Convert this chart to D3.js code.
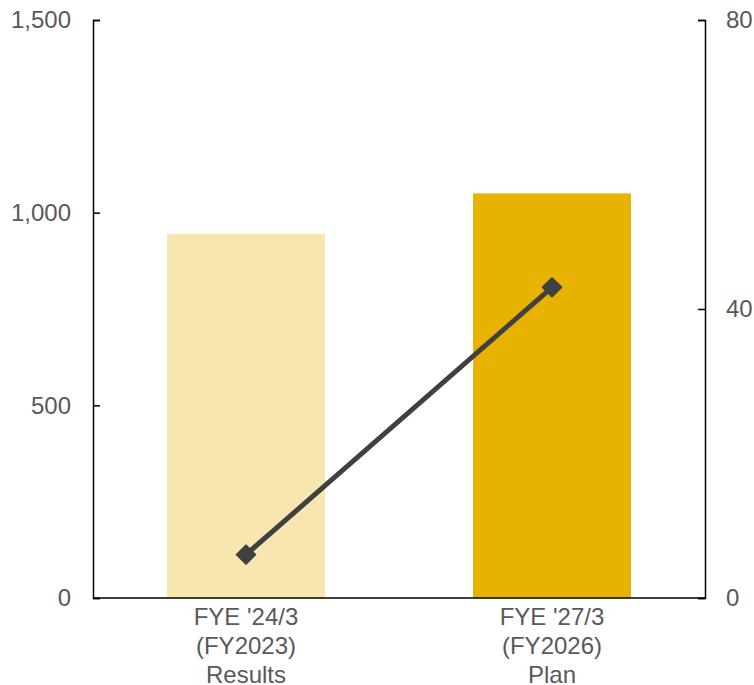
<!DOCTYPE html>
<html>
<head>
<meta charset="utf-8">
<script src="https://cdn.jsdelivr.net/npm/d3@7"></script>
<style>
  body { margin: 0; background: #fff; }
  text { font-family: "Liberation Sans", Arial, sans-serif; }
</style>
</head>
<body>
<svg id="chart"></svg>
<script>
const categories = [["FYE '24/3", "(FY2023)", "Results"], ["FYE '27/3", "(FY2026)", "Plan"]];
const barValues = [945, 1050];
const lineValues = [6, 43];
const barColors = ["#F7E6B0", "#E8B200"];
const leftTicks = [0, 500, 1000, 1500];
const rightTicks = [0, 40, 80];

const width = 754, height = 685;
const margin = { top: 20, right: 49, bottom: 87, left: 93 };

const svg = d3.select("#chart")
    .attr("width", width)
    .attr("height", height);

const x = d3.scaleBand()
    .domain(d3.range(categories.length))
    .range([margin.left, width - margin.right])
    .paddingInner(0.484)
    .paddingOuter(0.242);

const yLeft = d3.scaleLinear()
    .domain([0, 1500])
    .range([height - margin.bottom, margin.top]);

const yRight = d3.scaleLinear()
    .domain([0, 80])
    .range([height - margin.bottom, margin.top]);

// bars
svg.selectAll("rect.bar")
    .data(barValues)
    .join("rect")
    .attr("class", "bar")
    .attr("x", (d, i) => x(i))
    .attr("width", x.bandwidth())
    .attr("y", d => yLeft(d))
    .attr("height", d => yLeft(0) - yLeft(d))
    .attr("fill", (d, i) => barColors[i]);

// left axis
const leftAxis = svg.append("g")
    .attr("transform", `translate(${margin.left},0)`)
    .call(d3.axisRight(yLeft).tickValues(leftTicks).tickSize(7).tickFormat(d3.format(",")));
leftAxis.select(".domain").attr("stroke", "#000").attr("stroke-width", 1.5);
leftAxis.selectAll(".tick line").attr("stroke", "#000").attr("stroke-width", 1.5);
leftAxis.selectAll(".tick text")
    .attr("x", -22)
    .attr("text-anchor", "end")
    .attr("fill", "#595959")
    .attr("font-size", 24);

// right axis
const rightAxis = svg.append("g")
    .attr("transform", `translate(${width - margin.right},0)`)
    .call(d3.axisLeft(yRight).tickValues(rightTicks).tickSize(7));
rightAxis.select(".domain").attr("stroke", "#000").attr("stroke-width", 1.5);
rightAxis.selectAll(".tick line").attr("stroke", "#000").attr("stroke-width", 1.5);
rightAxis.selectAll(".tick text")
    .attr("x", 21)
    .attr("text-anchor", "start")
    .attr("fill", "#595959")
    .attr("font-size", 24);

svg.selectAll(".tick text").attr("font-family", "Liberation Sans, Arial, sans-serif");

// bottom axis line
svg.append("line")
    .attr("x1", margin.left)
    .attr("x2", width - margin.right)
    .attr("y1", yLeft(0))
    .attr("y2", yLeft(0))
    .attr("stroke", "#000")
    .attr("stroke-width", 1.5);

// category labels
const labels = svg.selectAll("text.cat")
    .data(categories)
    .join("text")
    .attr("class", "cat")
    .attr("text-anchor", "middle")
    .attr("fill", "#595959")
    .attr("font-size", 24);
labels.selectAll("tspan")
    .data((d, i) => d.map(t => ({ t, i })))
    .join("tspan")
    .attr("x", d => x(d.i) + x.bandwidth() / 2)
    .attr("y", (d, j) => 625 + j * 29)
    .text(d => d.t);

// line series
const line = d3.line()
    .x((d, i) => x(i) + x.bandwidth() / 2)
    .y(d => yRight(d));

svg.append("path")
    .datum(lineValues)
    .attr("d", line)
    .attr("fill", "none")
    .attr("stroke", "#404040")
    .attr("stroke-width", 5);

svg.selectAll("path.marker")
    .data(lineValues)
    .join("path")
    .attr("class", "marker")
    .attr("d", d3.symbol(d3.symbolSquare, 170))
    .attr("transform", (d, i) => `translate(${x(i) + x.bandwidth() / 2},${yRight(d)}) rotate(45)`)
    .attr("fill", "#404040")
    .attr("stroke", "#404040")
    .attr("stroke-width", 2)
    .attr("stroke-linejoin", "round");
</script>
</body>
</html>
